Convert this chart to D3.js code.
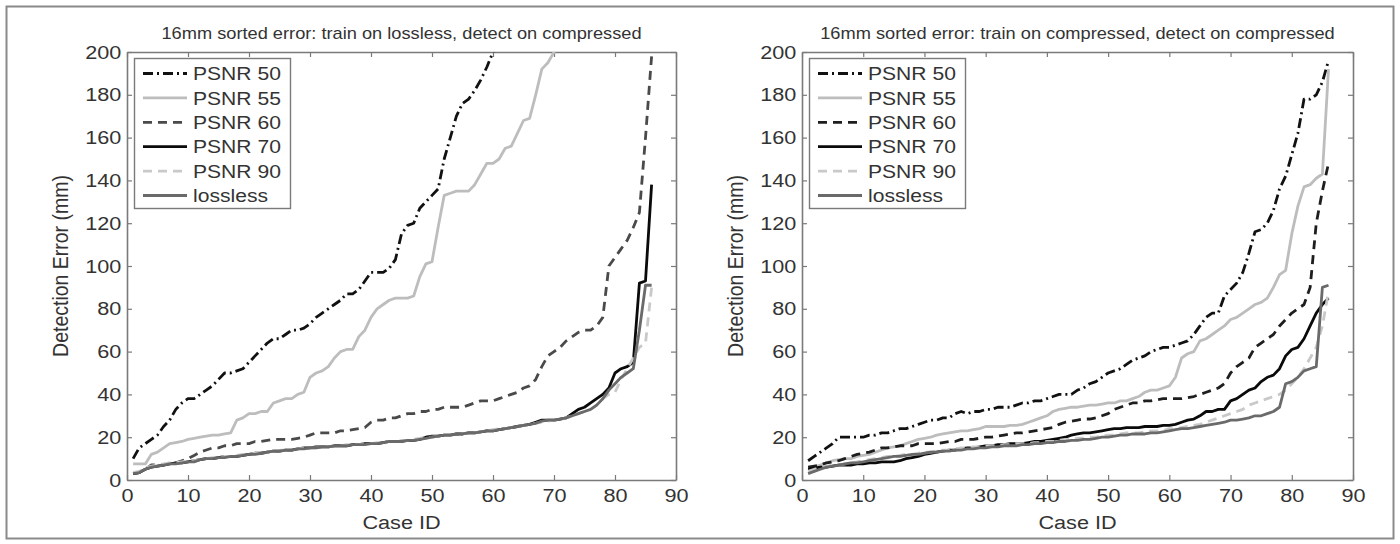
<!DOCTYPE html>
<html>
<head>
<meta charset="utf-8">
<script src="https://cdn.jsdelivr.net/npm/d3@7"></script>
<style>
  body { margin: 0; background: #fff; }
  text { font-family: "Liberation Sans", Arial, sans-serif; fill: #333; }
</style>
</head>
<body>
<div id="figure"></div>
<script>
var W = 1400, H = 544;
// the source figure is slightly stretched sideways, so text is widened a bit
var stretch = 1.14;

// x values: case index 1..86
var caseIds = d3.range(1, 87);
var xTicks = [0, 10, 20, 30, 40, 50, 60, 70, 80, 90];
var yTicks = [0, 20, 40, 60, 80, 100, 120, 140, 160, 180, 200];
var seriesNames = ["PSNR 50", "PSNR 55", "PSNR 60", "PSNR 70", "PSNR 90", "lossless"];

// left panel: train on lossless, detect on compressed
var leftP50 = [10,15,17,19,21,25,28,33,36,38,38,40,42,44,47,50,50,51,52,55,58,61,64,66,66,68,70,70,71,73,
  76,78,80,82,84,87,87,89,93,97,97,97,99,103,115,119,120,127,130,133,136,150,160,170,176,178,182,187,193,200,206];
var leftP55 = [7.5,7.5,7.5,12,13,15,17,17.5,18,19,19.5,20,20.5,21,21,21.5,22,28,29,31,31,32,32,36,37,38,38,40,41,48,
  50,51,53,57,60,61,61,67,70,76,80,82,84,85,85,85,86,95,101,102,118,133,134,135,135,135,138,143,148,148,
  150,155,156,162,168,169,180,192,195,200,206];
var leftP60 = [3,3.5,5,7,7,7,8,8,9,10,11.5,13,14,15,15,16,16,17,17,17,18,18,18.5,19,19,19,19,19.5,20,21,
  22,22,22,22,23,23,23.5,24,24.5,27,28,28,29,29,30,31,31,32,32,33,33,34,34,34,34,35,36,37,37,37,
  38,39,40,41,43,44,47,53,58,60,62,65,67,69,70,70,72,76,100,104,108,112,118,125,160,198];
var leftP70 = [3,3.5,5,6,6.5,7,7.5,8,8,8.5,9,9.5,10,10,10.5,11,11,11,11.5,12,12.5,12.5,13,13.5,13.5,14,14,14.5,15,15,
  15.5,15.5,15.5,16,16,16,16.5,16.5,17,17,17,17.5,18,18,18,18.5,18.5,19,20,20.5,20.5,21,21,21.5,21.5,22,22,22.5,23,23,
  23.5,24,24.5,25,25.5,26,27,28,28,28,28.5,29,31,33,34,36,38,40,43,50,52,53,55,92,93,138];
var leftP90 = [3.5,4,5.5,6.5,7,7.5,8,8,8.5,9,9,9.5,10,10.5,10.5,11,11,11.5,12,12,12.5,13,13,13.5,14,14,14.5,14.5,15,15,
  15,15.5,15.5,16,16,16.5,16.5,16.5,17,17,17.5,17.5,18,18,18.5,18.5,19,19.5,20,20,20.5,21,21,21,21.5,22,22,22.5,23,23.5,
  24,24,24.5,25,25.5,26,26.5,27,27.5,28,28.5,29,30,31,32,33,35,38,40,41,47,52,57,62,64,90];
var leftLossless = [3,3.5,5,6,6.5,7,7.5,7.5,8,8.5,8.5,9.5,10,10,10.5,10.5,11,11,11.5,12,12,12.5,13,13.5,13.5,14,14,14.5,14.5,15,
  15,15.5,15.5,16,16,16,16.5,16.5,16.5,17,17,17.5,18,18,18,18.5,18.5,19,19.5,20,20.5,21,21,21.5,21.5,22,22,22.5,23,23,
  23.5,24,24.5,25,25.5,26,26.5,27.5,28,28,28.5,29,30,31,32,33,35,38,42,45,48,50,52,70,91,91];

// right panel: train on compressed, detect on compressed
var rightP50 = [9,11,13,15,17,20,20,20,20,20,21,21,22,22,23,24,24,25,26,27,28,28,29,29,31,32,31,32,32,33,
  33,34,34,34,35,36,36,37,37,38,39,40,40,40,42,43,45,46,48,50,51,52,54,56,57,58,60,61,62,62,
  63,64,65,68,72,76,78,78,86,89,92,97,106,116,117,120,126,136,142,152,162,178,178,180,186,196];
var rightP55 = [5,6,7,8,9,9.5,10,10,11,11.5,12,13,14,15,15.5,16,17,18,19,19.5,20,21,21.5,22,22.5,23,23,23.5,24,25,
  25,25,25,25.5,25.5,26,27,28,29,30,32,33,33.5,34,34,34.5,35,35,35.5,36,36,37,37,38,39,41,42,42,43,44,
  48,57,59,60,65,66,68,70,72,75,76,78,80,82,83,85,90,96,98,115,128,137,138,141,143,192];
var rightP60 = [6,6.5,7,8,8.5,9,10,11,12,12.5,13,14,15,15,15.5,16,16,16,17,17,17,17,17.5,18,18,19,19,19,19.5,20,
  20,20.5,21,21.5,22,22,22.5,23,23.5,24,24.5,26,27,27.5,28,28.5,28.5,29,30,31,33,34,35,36,36,37,37,37.5,38,38,
  38,38,38.5,39,40,41,42,43,45,50,53,55,57,62,64,66,68,72,75,78,80,82,90,120,135,148];
var rightP70 = [5,5.5,6,6,6.5,7,7,7,7.5,7.5,8,8,8.5,8.5,8.5,9,10,10.5,11,12,12.5,13,13.5,14,14,14.5,15,15,15.5,16,
  16,16.5,16.5,17,17,17,17.5,18,18,18.5,19,19.5,20,21,21.5,22,22,22.5,23,23.5,24,24,24.5,24.5,24.5,25,25,25,25.5,25.5,
  26,27,28,28.5,30,32,32,33,33,37,38,40,42,43,46,48,49,52,58,61,62,66,72,78,82,85];
var rightP90 = [4,5,6,6.5,7,7,7.5,8,8.5,9,9.5,10,10.5,11,11,11.5,12,12,12.5,13,13,13.5,14,14,14.5,15,15,15.5,15.5,16,
  16,16,16.5,16.5,17,17,17,17.5,17.5,18,18,18.5,19,19,19.5,19.5,20,20,20.5,21,21,21.5,22,22,22,22.5,23,23,23,24,
  24,24.5,25,25.5,26,27,28,29,30,31,32,33,35,36,37,38,39,40,42,45,48,52,57,62,72,88];
var rightLossless = [3,4,5,6,6.5,7,7.5,8,8,8.5,9,9.5,10,10.5,11,11,11.5,12,12,12.5,13,13,13.5,13.5,14,14,14.5,14.5,15,15,
  15.5,15.5,16,16,16,16.5,16.5,17,17,17.5,17.5,18,18,18.5,18.5,19,19,19.5,20,20,20.5,21,21,21.5,21.5,21.5,22,22,22.5,23,
  23.5,24,24,24.5,25,25.5,26,26.5,27,28,28,28.5,29,30,30,31,32,34,45,46,48,51,52,53,90,91];

// line styles per series (same order as seriesNames)
var styles = [
  {color: "#111", dash: "10,4,2,4", width: 2.8},
  {color: "#bdbdbd", dash: null, width: 2.8},
  {color: "#4a4a4a", dash: "9,6", width: 2.8},
  {color: "#0a0a0a", dash: null, width: 2.8},
  {color: "#c9c9c9", dash: "9,6", width: 2.8},
  {color: "#6a6a6a", dash: null, width: 2.8}
];

var panels = [
  {title: "16mm sorted error: train on lossless, detect on compressed", left: 127, right: 676,
   p60color: "#4a4a4a",
   series: [leftP50, leftP55, leftP60, leftP70, leftP90, leftLossless]},
  {title: "16mm sorted error: train on compressed, detect on compressed", left: 802, right: 1353,
   p60color: "#1e1e1e",
   series: [rightP50, rightP55, rightP60, rightP70, rightP90, rightLossless]}
];
var plotTop = 52, plotBottom = 480;

var svg = d3.select("#figure").append("svg")
  .attr("width", W)
  .attr("height", H);

svg.append("rect").attr("width", W).attr("height", H).attr("fill", "#fff");

// outer frame
svg.append("rect")
  .attr("x", 6.5).attr("y", 6.5)
  .attr("width", W - 13).attr("height", H - 12)
  .attr("fill", "none")
  .attr("stroke", "#8a8a8a")
  .attr("stroke-width", 2);

// horizontal text helper (widened like the source)
function addText(parent, x, y, str, size, anchor) {
  return parent.append("text")
    .attr("transform", "translate(" + x + "," + y + ") scale(" + stretch + ",1)")
    .attr("text-anchor", anchor || "start")
    .style("font-size", size + "px")
    .text(str);
}

panels.forEach(function(p, pi) {
  var xScale = d3.scaleLinear().domain([0, 90]).range([p.left, p.right]);
  var yScale = d3.scaleLinear().domain([0, 200]).range([plotBottom, plotTop]);

  var g = svg.append("g");

  g.append("clipPath").attr("id", "clip" + pi)
    .append("rect")
    .attr("x", p.left).attr("y", plotTop)
    .attr("width", p.right - p.left).attr("height", plotBottom - plotTop);

  // axes with inward ticks (all four sides)
  var xAxis = d3.axisBottom(xScale).tickValues(xTicks).tickSizeInner(-5).tickSizeOuter(0).tickPadding(6);
  var yAxis = d3.axisLeft(yScale).tickValues(yTicks).tickSizeInner(-5).tickSizeOuter(0).tickPadding(5);
  var xTop = d3.axisTop(xScale).tickValues(xTicks).tickSizeInner(-5).tickSizeOuter(0).tickFormat("");
  var yRight = d3.axisRight(yScale).tickValues(yTicks).tickSizeInner(-5).tickSizeOuter(0).tickFormat("");

  var axes = [
    g.append("g").attr("transform", "translate(0," + plotBottom + ")").call(xAxis),
    g.append("g").attr("transform", "translate(" + p.left + ",0)").call(yAxis),
    g.append("g").attr("transform", "translate(0," + plotTop + ")").call(xTop),
    g.append("g").attr("transform", "translate(" + p.right + ",0)").call(yRight)
  ];
  axes.forEach(function(a) {
    a.select(".domain").attr("stroke", "#7a7a7a").attr("stroke-width", 1.6);
    a.selectAll(".tick line").attr("stroke", "#7a7a7a").attr("stroke-width", 1.2);
    a.selectAll(".tick text")
      .attr("fill", "#333")
      .attr("transform", "scale(" + stretch + ",1)")
      .style("font-family", "'Liberation Sans', Arial, sans-serif")
      .style("font-size", "19px");
  });
  axes[0].selectAll(".tick text").attr("dy", "0.85em");

  // lines
  var line = d3.line()
    .x(function(d, i) { return xScale(caseIds[i]); })
    .y(function(d) { return yScale(d); });

  var lineGroup = g.append("g").attr("clip-path", "url(#clip" + pi + ")");
  p.series.forEach(function(values, si) {
    var s = styles[si];
    lineGroup.append("path")
      .datum(values)
      .attr("fill", "none")
      .attr("stroke", si === 2 ? p.p60color : s.color)
      .attr("stroke-width", s.width)
      .attr("stroke-dasharray", s.dash)
      .attr("stroke-linejoin", "round")
      .attr("d", line);
  });

  // title and axis labels
  addText(g, (p.left + p.right) / 2, 39, p.title, 16, "middle");
  addText(g, (p.left + p.right) / 2, 529, "Case ID", 19, "middle");

  g.append("text")
    .attr("transform", "translate(" + (p.left - 59) + "," + ((plotTop + plotBottom) / 2) + ") rotate(-90) scale(1," + stretch + ")")
    .attr("text-anchor", "middle")
    .style("font-size", "19.5px")
    .text("Detection Error (mm)");

  // legend
  var lx = p.left + 7, ly = plotTop + 6;
  var legend = g.append("g").attr("transform", "translate(" + lx + "," + ly + ")");
  legend.append("rect")
    .attr("x", 0.5).attr("y", 0.5)
    .attr("width", 156).attr("height", 150)
    .attr("fill", "#fff")
    .attr("stroke", "#7a7a7a")
    .attr("stroke-width", 1.4);

  seriesNames.forEach(function(name, si) {
    var s = styles[si];
    var rowY = 15.5 + si * 24.4;
    legend.append("line")
      .attr("x1", 9).attr("x2", 53)
      .attr("y1", rowY).attr("y2", rowY)
      .attr("stroke", si === 2 ? p.p60color : s.color)
      .attr("stroke-width", s.width)
      .attr("stroke-dasharray", s.dash);
    addText(legend, 59, rowY + 6.6, name, 18.5, "start");
  });
});
</script>
</body>
</html>
